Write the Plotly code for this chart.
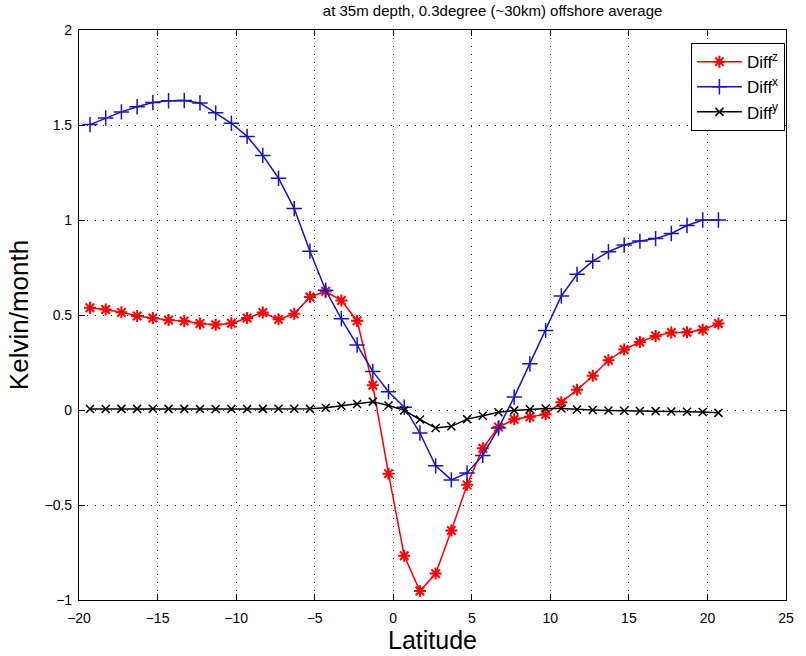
import plotly.graph_objects as go

# Latitude points (about 1 degree apart)
lat = [-19.3 + i for i in range(41)]

diff_z = [0.538, 0.529, 0.514, 0.495, 0.484, 0.474, 0.468, 0.455, 0.449, 0.457,
          0.484, 0.513, 0.477, 0.506, 0.595, 0.625, 0.576, 0.47, 0.13, -0.335,
          -0.767, -0.953, -0.861, -0.634, -0.394, -0.201, -0.09, -0.049, -0.036, -0.023,
          0.041, 0.106, 0.18, 0.262, 0.318, 0.358, 0.39, 0.408, 0.409, 0.422, 0.455]

diff_x = [1.502, 1.537, 1.569, 1.596, 1.618, 1.628, 1.629, 1.616, 1.564, 1.509,
          1.44, 1.34, 1.22, 1.06, 0.836, 0.63, 0.48, 0.342, 0.203, 0.096,
          0.015, -0.121, -0.294, -0.368, -0.331, -0.239, -0.095, 0.068, 0.243, 0.419,
          0.6, 0.714, 0.783, 0.833, 0.868, 0.889, 0.902, 0.929, 0.971, 1.0, 1.0]

diff_y = [0.005, 0.005, 0.006, 0.006, 0.007, 0.006, 0.006, 0.005, 0.005, 0.005,
          0.005, 0.006, 0.007, 0.007, 0.006, 0.012, 0.022, 0.032, 0.044, 0.024,
          -0.002, -0.05, -0.095, -0.086, -0.048, -0.03, -0.012, -0.002, 0.004, 0.008,
          0.008, 0.003, 0.0, -0.003, -0.004, -0.005, -0.006, -0.008, -0.009, -0.011, -0.015]

x_ticks = [-20, -15, -10, -5, 0, 5, 10, 15, 20, 25]
y_ticks = [-1, -0.5, 0, 0.5, 1, 1.5, 2]
y_tick_text = ["\u22121", "\u22120.5", "0", "0.5", "1", "1.5", "2"]
x_tick_text = ["\u221220", "\u221215", "\u221210", "\u22125", "0", "5", "10", "15", "20", "25"]

font = "Liberation Sans, Arial, sans-serif"

fig = go.Figure()
fig.add_trace(go.Scatter(
    x=lat, y=diff_z, mode="lines+markers", name="Diff<sup>z</sup>",
    line=dict(color="#ff0000", width=1.5),
    marker=dict(symbol="asterisk-open", size=10, line=dict(color="#ff0000", width=2))))
fig.add_trace(go.Scatter(
    x=lat, y=diff_x, mode="lines+markers", name="Diff<sup>x</sup>",
    line=dict(color="#1414c8", width=1.5),
    marker=dict(symbol="cross-thin-open", size=11, line=dict(color="#1414c8", width=1.5))))
fig.add_trace(go.Scatter(
    x=lat, y=diff_y, mode="lines+markers", name="Diff<sup>y</sup>",
    line=dict(color="#000000", width=1.5),
    marker=dict(symbol="x-thin-open", size=8, line=dict(color="#000000", width=1.5))))

axis_common = dict(
    showline=True, linecolor="black", linewidth=1.2, mirror="ticks",
    ticks="inside", ticklen=6, tickcolor="black",
    showgrid=True, gridcolor="#222222", griddash="1px,7px", gridwidth=1,
    zeroline=False, tickfont=dict(family=font, size=14, color="black"),
)

fig.update_layout(
    width=806, height=656,
    margin=dict(l=79, r=13, t=30, b=56),
    paper_bgcolor="white", plot_bgcolor="white",
    font=dict(family=font, color="black"),
    title=dict(text="at 35m depth, 0.3degree (~30km) offshore average",
               x=0.585, xref="paper", xanchor="center",
               y=0.992, yref="container", yanchor="top",
               font=dict(family=font, size=15, color="black")),
    xaxis=dict(range=[-20, 25], tickvals=x_ticks, ticktext=x_tick_text,
               ticklabelstandoff=5,
               title=dict(text="Latitude", font=dict(family=font, size=25), standoff=0),
               **axis_common),
    yaxis=dict(range=[-1, 2], tickvals=y_ticks, ticktext=y_tick_text,
               ticklabelstandoff=3,
               title=dict(text="Kelvin/month", font=dict(family=font, size=26), standoff=8),
               **axis_common),
    legend=dict(x=0.8655, y=0.977, xanchor="left", yanchor="top",
                bgcolor="white", bordercolor="black", borderwidth=1,
                font=dict(family=font, size=17, color="black"),
                itemwidth=45),
    showlegend=True,
)

fig.write_html("out.html")
